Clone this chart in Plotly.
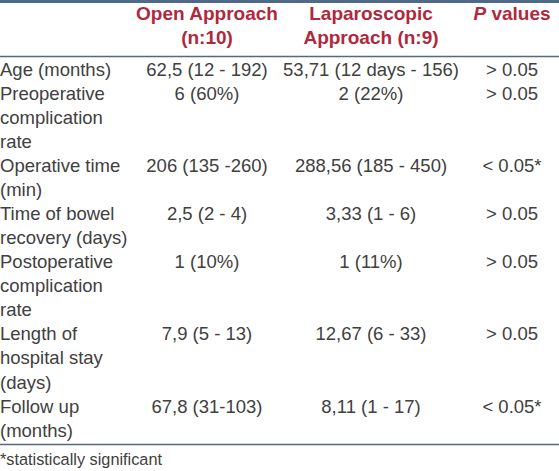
import plotly.graph_objects as go

# ---- data ----
col_headers = ["Open Approach<br>(n:10)", "Laparoscopic<br>Approach (n:9)", "<i>P</i> values"]

variables = [
    "Age (months)",
    "Preoperative<br>complication<br>rate",
    "Operative time<br>(min)",
    "Time of bowel<br>recovery (days)",
    "Postoperative<br>complication<br>rate",
    "Length of<br>hospital stay<br>(days)",
    "Follow up<br>(months)",
]
open_vals = ["62,5 (12 - 192)", "6 (60%)", "206 (135 -260)", "2,5 (2 - 4)",
             "1 (10%)", "7,9 (5 - 13)", "67,8 (31-103)"]
lap_vals = ["53,71 (12 days - 156)", "2 (22%)", "288,56 (185 - 450)", "3,33 (1 - 6)",
            "1 (11%)", "12,67 (6 - 33)", "8,11 (1 - 17)"]
p_vals = ["> 0.05", "> 0.05", "< 0.05*", "> 0.05", "> 0.05", "> 0.05", "< 0.05*"]
footnote = "*statistically significant"

# ---- layout constants (pixel-like axis units) ----
W, H = 559, 471
RED = "#b0283c"
TXT = "#404040"
RULE = "#4f6a88"
FONT = "Liberation Sans, Arial, sans-serif"
LABEL_X = 0
COL_X = [207, 371, 512]
HEADER_Y0, HEADER_PITCH = 15, 24
BODY_Y0, PITCH = 71, 24.07
RULES = [(1.5, 3), (56.5, 1.5), (444.5, 1.5)]
FOOT_Y = 460.5

# ---- lay out lines ----
lab_x, lab_y, lab_t = [], [], []
val_x, val_y, val_t = [], [], []
line = 0
for v, o, l, p in zip(variables, open_vals, lap_vals, p_vals):
    y_first = BODY_Y0 + line * PITCH
    for part in v.split("<br>"):
        lab_x.append(LABEL_X)
        lab_y.append(BODY_Y0 + line * PITCH)
        lab_t.append(part)
        line += 1
    for cx, txt in zip(COL_X, (o, l, p)):
        val_x.append(cx)
        val_y.append(y_first)
        val_t.append(txt)

hd_x, hd_y, hd_t = [], [], []
for cx, h in zip(COL_X, col_headers):
    for i, part in enumerate(h.split("<br>")):
        hd_x.append(cx)
        hd_y.append(HEADER_Y0 + i * HEADER_PITCH)
        hd_t.append(f"<b>{part}</b>")

fig = go.Figure()
fig.add_trace(go.Scatter(x=hd_x, y=hd_y, text=hd_t, mode="text",
                         textposition="middle center", hoverinfo="skip",
                         textfont=dict(family=FONT, size=19, color=RED)))
fig.add_trace(go.Scatter(x=lab_x, y=lab_y, text=lab_t, mode="text",
                         textposition="middle right", hoverinfo="skip",
                         textfont=dict(family=FONT, size=18.5, color=TXT)))
fig.add_trace(go.Scatter(x=val_x, y=val_y, text=val_t, mode="text",
                         textposition="middle center", hoverinfo="skip",
                         textfont=dict(family=FONT, size=18.5, color=TXT)))
fig.add_trace(go.Scatter(x=[LABEL_X], y=[FOOT_Y], text=[footnote], mode="text",
                         textposition="middle right", hoverinfo="skip",
                         textfont=dict(family=FONT, size=16.3, color=TXT)))

shapes = [dict(type="line", xref="x", yref="y", x0=0, x1=W, y0=y, y1=y,
               line=dict(color=RULE, width=w)) for y, w in RULES]

fig.update_layout(
    width=W, height=H,
    margin=dict(l=0, r=0, t=0, b=0),
    paper_bgcolor="white", plot_bgcolor="white",
    showlegend=False,
    hovermode=False,
    shapes=shapes,
    xaxis=dict(range=[0, W], visible=False, fixedrange=True),
    yaxis=dict(range=[H, 0], visible=False, fixedrange=True),
)

fig.write_html("out.html", config={"displayModeBar": False, "staticPlot": True},
               post_script="document.body.style.margin='0';")
